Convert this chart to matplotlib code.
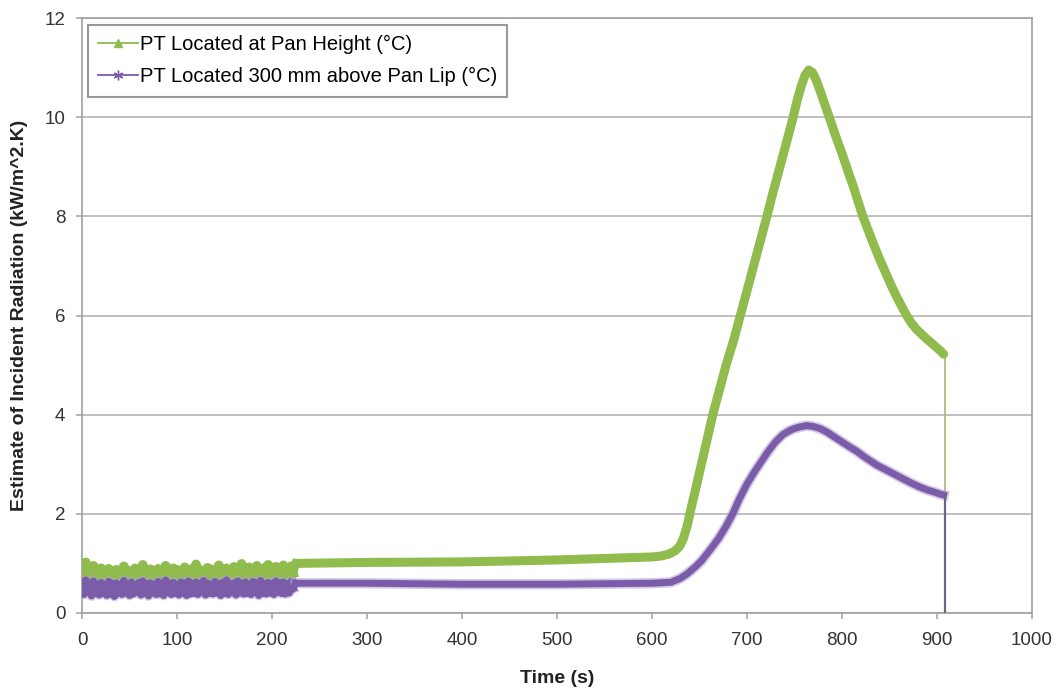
import numpy as np
import matplotlib.pyplot as plt
from matplotlib.lines import Line2D

plt.rcParams['font.family'] = ['Liberation Sans', 'DejaVu Sans']

# noisy start (0-222 s, every 2 s)
t_noise = np.arange(0, 224, 2)
green_noise = [0.92, 0.70, 1.02, 0.74, 0.88, 0.68, 0.95, 0.72, 0.86, 0.69,
               0.90, 0.71, 0.84, 0.67, 0.89, 0.73, 0.83, 0.68, 0.87, 0.70,
               0.85, 0.72, 0.94, 0.69, 0.86, 0.71, 0.82, 0.70, 0.90, 0.73,
               0.84, 0.68, 0.97, 0.72, 0.85, 0.70, 0.88, 0.69, 0.83, 0.74,
               0.89, 0.71, 0.86, 0.68, 0.95, 0.72, 0.84, 0.70, 0.90, 0.73,
               0.87, 0.69, 0.85, 0.71, 0.92, 0.74, 0.86, 0.70, 0.89, 0.72,
               0.98, 0.71, 0.87, 0.73, 0.85, 0.70, 0.91, 0.74, 0.88, 0.72,
               0.86, 0.71, 0.96, 0.75, 0.87, 0.72, 0.90, 0.74, 0.85, 0.73,
               0.93, 0.72, 0.88, 0.75, 0.99, 0.73, 0.86, 0.71, 0.92, 0.75,
               0.89, 0.74, 0.95, 0.72, 0.87, 0.76, 0.91, 0.74, 0.97, 0.75,
               0.88, 0.73, 0.93, 0.76, 0.90, 0.74, 0.96, 0.77, 0.89, 0.76,
               0.94, 0.80]
purple_noise = [0.62, 0.38, 0.66, 0.42, 0.58, 0.35, 0.64, 0.40, 0.57, 0.37,
                0.61, 0.41, 0.56, 0.36, 0.63, 0.39, 0.59, 0.34, 0.60, 0.40,
                0.57, 0.38, 0.65, 0.41, 0.58, 0.36, 0.62, 0.39, 0.56, 0.42,
                0.61, 0.37, 0.64, 0.40, 0.59, 0.35, 0.60, 0.41, 0.57, 0.38,
                0.63, 0.39, 0.58, 0.36, 0.66, 0.42, 0.59, 0.38, 0.61, 0.40,
                0.57, 0.37, 0.62, 0.41, 0.60, 0.36, 0.64, 0.39, 0.58, 0.40,
                0.62, 0.38, 0.59, 0.42, 0.65, 0.37, 0.60, 0.40, 0.57, 0.39,
                0.63, 0.41, 0.58, 0.36, 0.61, 0.40, 0.66, 0.38, 0.59, 0.42,
                0.60, 0.37, 0.64, 0.41, 0.58, 0.39, 0.62, 0.40, 0.57, 0.38,
                0.63, 0.42, 0.60, 0.36, 0.65, 0.40, 0.58, 0.39, 0.61, 0.41,
                0.59, 0.38, 0.64, 0.42, 0.60, 0.40, 0.62, 0.39, 0.58, 0.41,
                0.63, 0.50]

# smooth part after 225 s
t_green = [225, 300, 400, 500, 550, 600, 610, 618, 624, 629, 633, 637, 641,
           646, 652, 658, 664, 671, 678, 686, 693, 700, 707, 714, 721, 727,
           734, 741, 748, 753, 757, 761, 765, 769, 773, 778, 782, 787, 793,
           800, 806, 812, 817, 822, 828, 834, 840, 846, 852, 857, 863, 868,
           873, 878, 884, 889, 894, 898, 903, 907]
v_green = [1.0, 1.02, 1.03, 1.07, 1.1, 1.13, 1.15, 1.19, 1.25, 1.34, 1.5,
           1.75, 2.1, 2.5, 3.0, 3.5, 4.0, 4.5, 5.0, 5.5, 6.0, 6.5, 7.0, 7.5,
           8.0, 8.45, 8.95, 9.45, 9.95, 10.35, 10.62, 10.84, 10.95, 10.9,
           10.74, 10.48, 10.25, 9.98, 9.64, 9.27, 8.93, 8.6, 8.3, 8.0, 7.7,
           7.4, 7.12, 6.86, 6.6, 6.4, 6.18, 6.0, 5.85, 5.73, 5.62, 5.53, 5.45,
           5.38, 5.3, 5.22]

t_purple = [225, 300, 400, 500, 600, 620, 630, 637, 645, 652, 661, 670, 678,
            685, 692, 700, 708, 715, 722, 730, 738, 745, 750, 755, 763, 770,
            777, 785, 792, 800, 808, 815, 822, 829, 836, 843, 850, 858, 865,
            873, 882, 890, 897, 903, 907]
v_purple = [0.6, 0.6, 0.58, 0.58, 0.6, 0.62, 0.7, 0.79, 0.92, 1.05, 1.27,
            1.5, 1.75, 2.0, 2.3, 2.6, 2.85, 3.05, 3.25, 3.45, 3.6, 3.68, 3.72,
            3.75, 3.78, 3.76, 3.72, 3.64, 3.55, 3.45, 3.35, 3.27, 3.17, 3.08,
            2.99, 2.92, 2.85, 2.77, 2.7, 2.62, 2.54, 2.48, 2.44, 2.4, 2.38]

# final drop to zero
t_drop = [908, 908]
green_drop = [5.22, 0]
purple_drop = [2.38, 0]

green = '#8fbc4c'
purple = '#7a5ca8'

fig = plt.figure(figsize=(10.57, 6.9), dpi=100)
ax = fig.add_axes([0.0776, 0.1116, 0.8987, 0.8623])

ax.plot(t_drop, green_drop, color='#a8b878', lw=1.2, zorder=3)
ax.plot(t_noise, green_noise, color=green, lw=7, zorder=4)
ax.plot(t_green, v_green, color=green, lw=6.5, zorder=4, solid_capstyle='round')
ax.plot([t_noise[-1], t_green[0]], [green_noise[-1], v_green[0]], color=green, lw=6, zorder=4)

ax.plot(t_noise, purple_noise, color='#b9a6d6', lw=7.5, alpha=0.6, zorder=5)
ax.plot(t_noise, purple_noise, color=purple, lw=5.5, zorder=5)
ax.plot(t_purple, v_purple, color='#b9a6d6', lw=7.5, alpha=0.6, zorder=5)
ax.plot(t_purple, v_purple, color=purple, lw=5, zorder=5)
ax.plot([t_noise[-1], t_purple[0]], [purple_noise[-1], v_purple[0]], color=purple, lw=5, zorder=5)
ax.plot(t_drop, purple_drop, color='#6e6680', lw=1.6, zorder=6)

ax.set_xlim(0, 1000)
ax.set_ylim(0, 12)
ax.set_xticks(np.arange(0, 1001, 100))
ax.set_yticks(np.arange(0, 13, 2))
ax.yaxis.grid(True, color='#b4b4b4', lw=1.2)
ax.set_axisbelow(True)
for s in ax.spines.values():
    s.set_color('#a0a0a0')
    s.set_linewidth(1.2)
ax.tick_params(axis='both', colors='#a0a0a0', labelcolor='#333333',
               labelsize=13.5, length=4, width=1.1)
ax.tick_params(axis='x', pad=10)
ax.tick_params(axis='y', pad=8)

ax.set_xlabel('Time (s)', fontsize=14, fontweight='bold', color='#222222', labelpad=15)
ax.set_ylabel('Estimate of Incident Radiation (kW/m^2.K)', fontsize=14,
              fontweight='bold', color='#222222', labelpad=12)

handles = [Line2D([], [], color=green, lw=1.3, marker='^', markersize=6),
           Line2D([], [], color=purple, lw=1.3, marker=(6, 2, 0), markersize=7)]
labels = ['PT Located at Pan Height (°C)', 'PT Located 300 mm above Pan Lip (°C)']
leg = ax.legend(handles, labels, loc='upper left', bbox_to_anchor=(0.006, 0.988),
                borderaxespad=0, fancybox=False, fontsize=14.5, handlelength=2.0,
                handletextpad=0.1, labelspacing=0.65, borderpad=0.5, framealpha=1)
leg.get_frame().set_edgecolor('#999999')
leg.get_frame().set_linewidth(1.5)

fig.savefig('out.png', dpi=100)
